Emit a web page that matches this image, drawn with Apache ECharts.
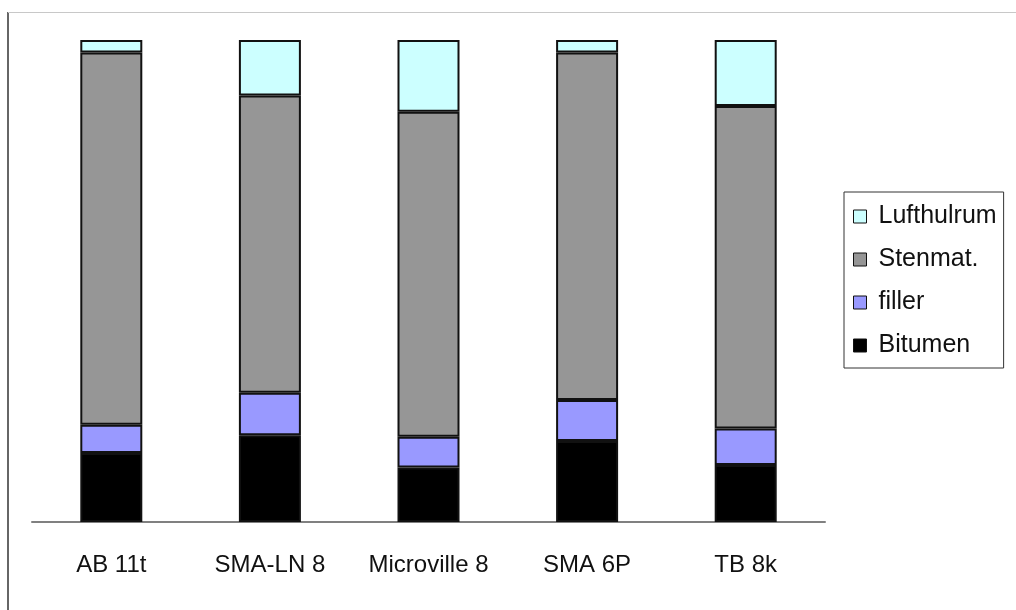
<!DOCTYPE html>
<html>
<head>
<meta charset="utf-8">
<script src="https://cdn.jsdelivr.net/npm/echarts@6/dist/echarts.min.js"></script>
<style>
  html, body { margin: 0; padding: 0; background: #fff; }
  #chart { width: 1016px; height: 610px; }
</style>
</head>
<body>
<div id="chart"></div>
<script>
// Asphalt mixes: volume composition (%) per mix
const categories = ['AB 11t', 'SMA-LN 8', 'Microville 8', 'SMA 6P', 'TB 8k'];
const bitumen    = [14.3, 18.0, 11.3, 16.8, 11.8];
const filler     = [5.9, 8.8, 6.4, 8.5, 7.6];
const stenmat    = [77.2, 61.7, 67.4, 72.1, 66.9];
const lufthulrum = [2.6, 11.5, 14.9, 2.6, 13.7];

const seriesNames  = ['Bitumen', 'filler', 'Stenmat.', 'Lufthulrum'];
const seriesData   = [bitumen, filler, stenmat, lufthulrum];
const seriesColors = ['#000000', '#9999ff', '#969696', '#ccffff'];

const FONT = 'Liberation Sans, Arial, sans-serif';

const chart = echarts.init(document.getElementById('chart'), null, { renderer: 'canvas' });

chart.setOption({
  animation: false,
  backgroundColor: '#ffffff',
  grid: { left: 32, right: 191, top: 40, bottom: 88, containLabel: false },
  xAxis: {
    type: 'category',
    data: categories,
    axisLine: { show: true, lineStyle: { color: '#808080', width: 2 } },
    axisTick: { show: false },
    axisLabel: {
      interval: 0,
      hideOverlap: false,
      color: '#111',
      fontFamily: FONT,
      fontSize: 24,
      lineHeight: 24,
      margin: 31
    },
    splitLine: { show: false }
  },
  yAxis: {
    type: 'value',
    min: 0,
    max: 100,
    show: false,
    splitLine: { show: false }
  },
  legend: {
    orient: 'vertical',
    left: 844,
    top: 192,
    data: seriesNames.slice().reverse(),
    icon: 'rect',
    itemWidth: 13,
    itemHeight: 13,
    itemGap: 18,
    padding: [12, 7, 10, 9],
    borderColor: '#333',
    borderWidth: 1,
    itemStyle: { borderColor: '#111', borderWidth: 1 },
    textStyle: { color: '#111', fontFamily: FONT, fontSize: 25, lineHeight: 25, padding: [0, 0, 0, 7] }
  },
  graphic: [
    { type: 'line', shape: { x1: 8, y1: 12, x2: 8, y2: 610 }, style: { stroke: '#333', lineWidth: 1.5 }, silent: true },
    { type: 'line', shape: { x1: 8, y1: 12.5, x2: 1016, y2: 12.5 }, style: { stroke: '#c8c8c8', lineWidth: 1 }, silent: true }
  ],
  series: seriesNames.map((name, i) => ({
    name: name,
    type: 'bar',
    stack: 'mix',
    barWidth: 62,
    data: seriesData[i],
    itemStyle: { color: seriesColors[i], borderColor: '#111', borderWidth: 2 }
  }))
});
</script>
</body>
</html>
